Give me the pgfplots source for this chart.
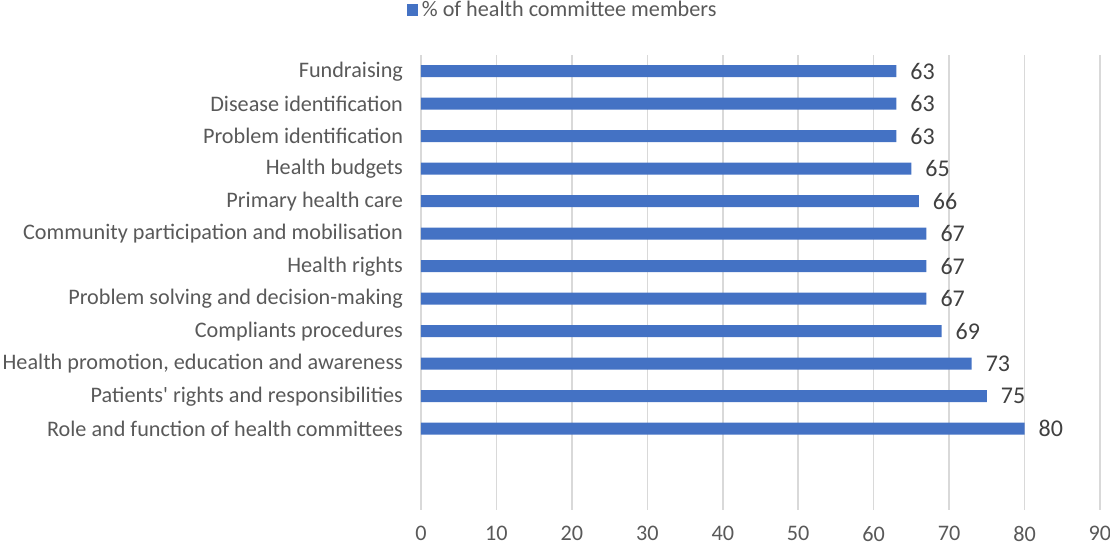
\documentclass[border=0pt]{standalone}
\usepackage{fontspec}
\setmainfont{Carlito}
\usepackage{pgfplots}
\pgfplotsset{compat=1.18}
\definecolor{barblue}{HTML}{4472C4}
\definecolor{gridgray}{HTML}{D9D9D9}
\definecolor{txtgray}{HTML}{595959}
\definecolor{numgray}{HTML}{404040}
\begin{document}
\begin{tikzpicture}
\useasboundingbox (0,0) rectangle (555pt,273pt);
\begin{axis}[
  at={(210.5pt,18pt)}, anchor=south west,
  scale only axis, width=339.5pt, height=227.5pt,
  xbar, bar width=6pt,
  xmin=0, xmax=90, ymin=-2.5, ymax=11.5,
  xtick={0,10,...,90},
  ytick={0,...,11},
  yticklabels={Role and function of health committees,
    Patients\textquotesingle\ rights and responsibilities,
    {Health promotion, education and awareness},
    Compliants procedures,
    Problem solving and decision-making,
    Health rights,
    Community participation and mobilisation,
    Primary health care,
    Health budgets,
    Problem identification,
    Disease identification,
    Fundraising},
  axis line style={draw=none},
  major tick length=0pt,
  xmajorgrids, grid style={gridgray, line width=0.75pt},
  /pgf/number format/assume math mode=true,
  tick label style={font=\fontsize{11.1}{13}\selectfont, text=txtgray},
  yticklabel style={xshift=-5.5pt},
  xticklabel style={yshift=-4.5pt},
  nodes near coords,
  nodes near coords style={font=\fontsize{12}{14}\selectfont, text=numgray, xshift=3.5pt},
  legend style={at={(0.21,1.099)}, anchor=center, draw=none, fill=none,
    font=\fontsize{11.1}{13}\selectfont, text=txtgray},
]
\addplot[fill=barblue, draw=none,
  legend image code/.code={\fill[barblue] (0pt,-2.8pt) rectangle (5.6pt,2.8pt);}] coordinates {
  (80,0) (75,1) (73,2) (69,3) (67,4) (67,5) (67,6) (66,7) (65,8) (63,9) (63,10) (63,11)};
\addlegendentry{\% of health committee members}
\end{axis}
\end{tikzpicture}
\end{document}
